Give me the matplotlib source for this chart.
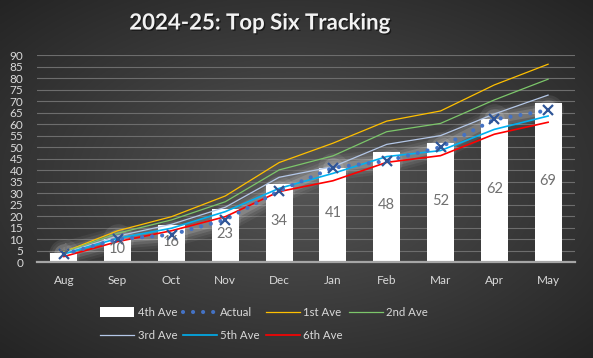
import numpy as np
import matplotlib
matplotlib.use("Agg")
import matplotlib.pyplot as plt
from matplotlib.lines import Line2D
from matplotlib.patches import Patch
import matplotlib.patheffects as pe

months = ["Aug", "Sep", "Oct", "Nov", "Dec", "Jan", "Feb", "Mar", "Apr", "May"]
ave4 = [4, 10, 16, 23, 34, 41, 48, 52, 62, 69]
actual = [3.5, 10, 12, 18.5, 31, 41, 44, 50, 62, 66]
ave1 = [4.5, 13.7, 19.8, 28.8, 43.3, 51.7, 61.3, 65.7, 77, 86]
ave2 = [4.3, 12.6, 18.4, 26.3, 40.1, 46.2, 56.7, 60.3, 70.5, 79.5]
ave3 = [4.0, 11.4, 16.5, 23.9, 36.9, 41.5, 51.2, 55, 64.4, 72.6]
ave5 = [3.6, 10.4, 14.8, 22, 32.1, 38.6, 45.9, 48.5, 57.7, 63.5]
ave6 = [2.5, 9.0, 13.7, 19.8, 30.7, 35.4, 43.4, 46.3, 55.6, 60.8]
yticks = list(range(0, 95, 5))

W, H = 593, 358
fig = plt.figure(figsize=(W / 100, H / 100), dpi=100)

# radial gradient background
bg = fig.add_axes([0, 0, 1, 1], zorder=0)
yy, xx = np.mgrid[0:1:200j, 0:1:300j]
r = np.sqrt(((xx - 0.5) / 0.5) ** 2 + ((yy - 0.5) / 0.5) ** 2) / np.sqrt(2)
r = np.clip(r, 0, 1)
c0 = np.array([0x58, 0x58, 0x58]) / 255
c1 = np.array([0x24, 0x24, 0x24]) / 255
img = c0[None, None, :] + (c1 - c0)[None, None, :] * r[..., None] ** 0.9
bg.imshow(img, aspect="auto", extent=[0, 1, 0, 1], interpolation="bilinear")
bg.axis("off")

ax = fig.add_axes([37 / W, 1 - 262.3 / H, (575 - 37) / W, (262.3 - 55) / H], zorder=1)
ax.set_facecolor("none")
x = np.arange(len(months))

ax.set_xlim(-0.5, len(months) - 0.5)
ax.set_ylim(0, 90)
ax.set_yticks(yticks)
ax.set_yticklabels([str(t) for t in yticks])
ax.set_xticks(x)
ax.set_xticklabels(months)
fam = ["Lato", "DejaVu Sans"]
ax.tick_params(axis="y", length=0, pad=10, labelsize=8.5, labelcolor="#d9d9d9")
ax.tick_params(axis="x", length=0, pad=9, labelsize=8.5, labelcolor="#d9d9d9")
for lab in ax.get_xticklabels() + ax.get_yticklabels():
    lab.set_family(fam)
for s in ["top", "right", "left"]:
    ax.spines[s].set_visible(False)
ax.spines["bottom"].set_color("#a6a6a6")
ax.spines["bottom"].set_linewidth(1.6)
ax.spines["bottom"].set_zorder(5)
ax.grid(axis="y", color="#6d6d6d", linewidth=0.8)
ax.set_axisbelow(True)

bars = ax.bar(x, ave4, width=0.5, color="white", zorder=2)
for xi, v in zip(x, ave4):
    ax.text(xi, max(v / 2 + 0.8, 5.5), str(v), ha="center", va="center",
            fontsize=10.5, color="#707070", family=fam, zorder=6)

# glow for actual series
for lw, a in [(18, 0.05), (14, 0.07), (10, 0.10), (6, 0.14)]:
    ax.plot(x, actual, color="white", lw=lw, alpha=a, solid_capstyle="round",
            solid_joinstyle="round", zorder=2.5)
for ms, a in [(22, 0.08), (15, 0.12)]:
    ax.plot(x, actual, linestyle="none", marker="o", markersize=ms, color="white",
            alpha=a, markeredgewidth=0, zorder=2.5)

ax.plot(x, ave1, color="#FFC000", lw=0.9, zorder=3)
ax.plot(x, ave2, color="#7cc66a", lw=0.9, zorder=3)
ax.plot(x, ave3, color="#b4c7e7", lw=0.9, zorder=3)
ax.plot(x, ave5, color="#00B0F0", lw=1.2, zorder=3)
ax.plot(x, ave6, color="#FF0000", lw=1.2, zorder=3)

ax.plot(x, actual, color="#4472C4", lw=3.0, linestyle=(0, (0.01, 2.4)),
        dash_capstyle="round", zorder=4)
ax.plot(x, actual, linestyle="none", marker="x", markersize=7, markeredgewidth=1.6,
        color="#2F5597", zorder=4.5)

fig.text(260 / W, 1 - 23 / H, "2024-25: Top Six Tracking", ha="center", va="center",
         fontsize=16, fontweight="bold", color="#f2f2f2", family=fam,
         path_effects=[pe.withSimplePatchShadow(offset=(1, -1), shadow_rgbFace="black", alpha=0.5)])

h_ave4 = Patch(facecolor="white", edgecolor="none")
h_act = Line2D([], [], color="#4472C4", lw=3.0, linestyle=(0, (0.01, 2.4)), dash_capstyle="round")
h1 = Line2D([], [], color="#FFC000", lw=0.9)
h2 = Line2D([], [], color="#7cc66a", lw=0.9)
h3 = Line2D([], [], color="#b4c7e7", lw=0.9)
h5 = Line2D([], [], color="#00B0F0", lw=1.2)
h6 = Line2D([], [], color="#FF0000", lw=1.2)
handles = [h_ave4, h3, h_act, h5, h1, h6, h2]
labels = ["4th Ave", "3rd Ave", "Actual", "5th Ave", "1st Ave", "6th Ave", "2nd Ave"]
leg = fig.legend(handles, labels, ncol=4, loc="center",
                 bbox_to_anchor=(264 / W, 1 - 324 / H), frameon=False,
                 handlelength=3.0, handleheight=0.9, handletextpad=0.3,
                 columnspacing=0.5, labelspacing=1.05, borderpad=0,
                 prop={"family": fam, "size": 8.2})
for t in leg.get_texts():
    t.set_color("#d9d9d9")

fig.savefig("out.png", dpi=100)
